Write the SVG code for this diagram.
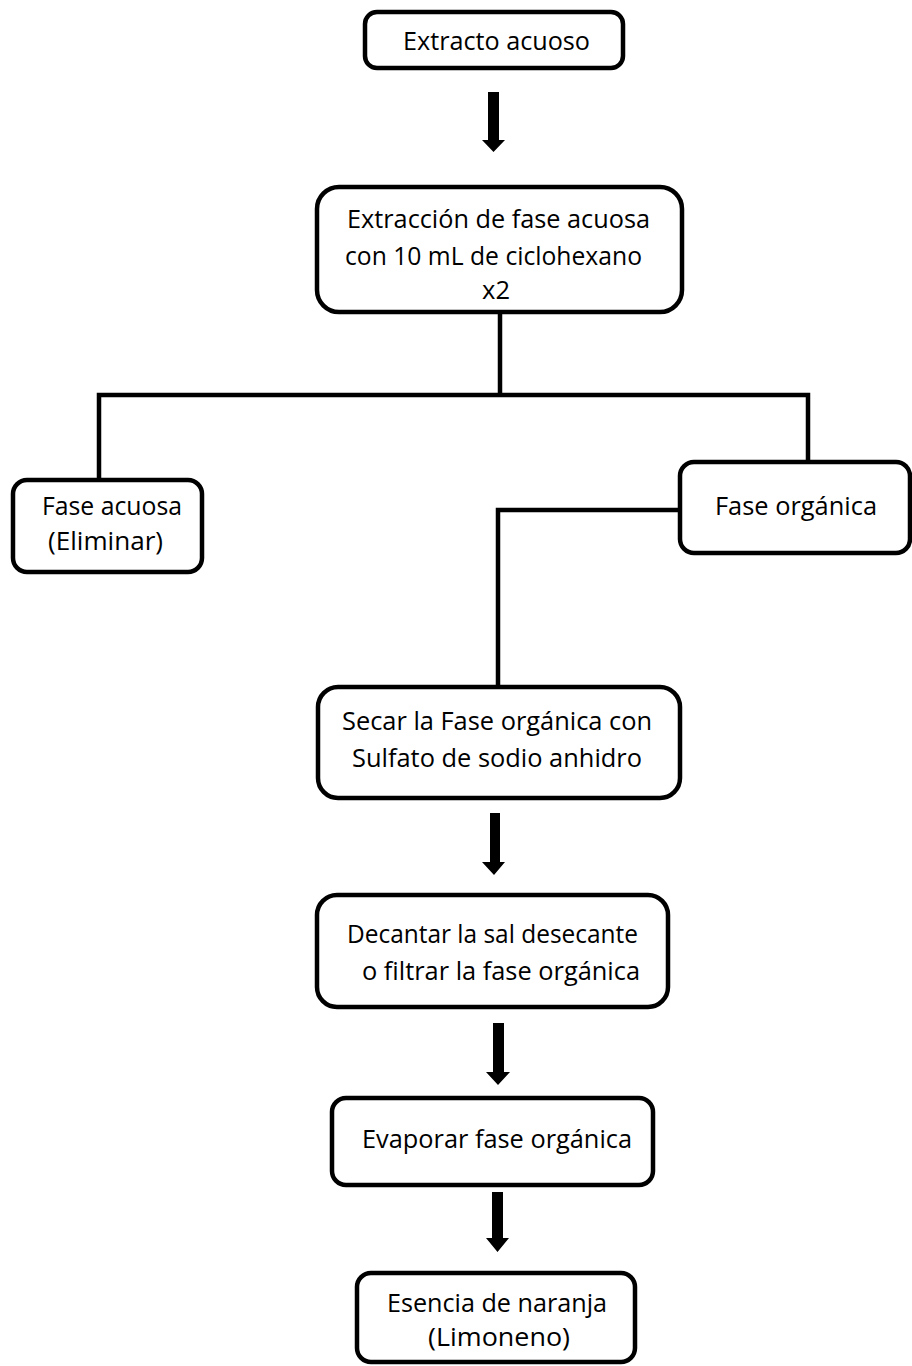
<svg xmlns="http://www.w3.org/2000/svg" width="912" height="1366" viewBox="0 0 912 1366">
<style>
.box{fill:#fff;stroke:#000;stroke-width:4.5}
.ln{fill:none;stroke:#000;stroke-width:4.5;stroke-linejoin:miter}
.t{font-family:"Open Sans","Noto Sans",sans-serif;font-size:25px;fill:#000}
.ar{fill:#000}
</style>
<rect width="912" height="1366" fill="#fff"/>
<g id="connectors">
<polyline class="ln" points="500,312 500,395"/>
<polyline class="ln" points="99,480 99,395 808,395 808,462"/>
<polyline class="ln" points="680,510 498,510 498,687"/>
<path class="ar" d="M488,92 H499 V140 H505 L493.5,152 L482,140 H488 Z"/>
<path class="ar" d="M490,813 H500 V862 H505 L494,875 L482,862 H490 Z"/>
<path class="ar" d="M493,1023 H504 V1072 H510 L498,1085 L486,1072 H493 Z"/>
<path class="ar" d="M492,1192 H503 V1238 H509 L497.5,1252 L486,1238 H492 Z"/>
</g>
<g id="n1">
<rect class="box" x="365" y="12" width="258" height="56" rx="12"/>
<text class="t" x="403" y="50" textLength="187" lengthAdjust="spacingAndGlyphs">Extracto acuoso</text>
</g>
<g id="n2">
<rect class="box" x="317" y="187" width="365" height="125" rx="22"/>
<text class="t" x="347" y="228" textLength="303" lengthAdjust="spacingAndGlyphs">Extracción de fase acuosa</text>
<text class="t" x="345" y="265" textLength="297" lengthAdjust="spacingAndGlyphs">con 10 mL de ciclohexano</text>
<text class="t" x="482" y="299" textLength="28" lengthAdjust="spacingAndGlyphs">x2</text>
</g>
<g id="n3">
<rect class="box" x="13" y="480" width="189" height="92" rx="14"/>
<text class="t" x="42" y="515" textLength="140" lengthAdjust="spacingAndGlyphs">Fase acuosa</text>
<text class="t" x="48" y="550" textLength="115" lengthAdjust="spacingAndGlyphs">(Eliminar)</text>
</g>
<g id="n4">
<rect class="box" x="680" y="462" width="230" height="91" rx="14"/>
<text class="t" x="715" y="515" textLength="162" lengthAdjust="spacingAndGlyphs">Fase orgánica</text>
</g>
<g id="n5">
<rect class="box" x="318" y="687" width="362" height="111" rx="20"/>
<text class="t" x="342" y="730" textLength="310" lengthAdjust="spacingAndGlyphs">Secar la Fase orgánica con</text>
<text class="t" x="352" y="767" textLength="290" lengthAdjust="spacingAndGlyphs">Sulfato de sodio anhidro</text>
</g>
<g id="n6">
<rect class="box" x="317" y="895" width="351" height="112" rx="20"/>
<text class="t" x="347" y="943" textLength="291" lengthAdjust="spacingAndGlyphs">Decantar la sal desecante</text>
<text class="t" x="362" y="980" textLength="278" lengthAdjust="spacingAndGlyphs">o filtrar la fase orgánica</text>
</g>
<g id="n7">
<rect class="box" x="332" y="1098" width="321" height="87" rx="14"/>
<text class="t" x="362" y="1148" textLength="270" lengthAdjust="spacingAndGlyphs">Evaporar fase orgánica</text>
</g>
<g id="n8">
<rect class="box" x="357" y="1273" width="278" height="89" rx="14"/>
<text class="t" x="387" y="1312" textLength="220" lengthAdjust="spacingAndGlyphs">Esencia de naranja</text>
<text class="t" x="428" y="1346" textLength="142" lengthAdjust="spacingAndGlyphs">(Limoneno)</text>
</g>
</svg>
